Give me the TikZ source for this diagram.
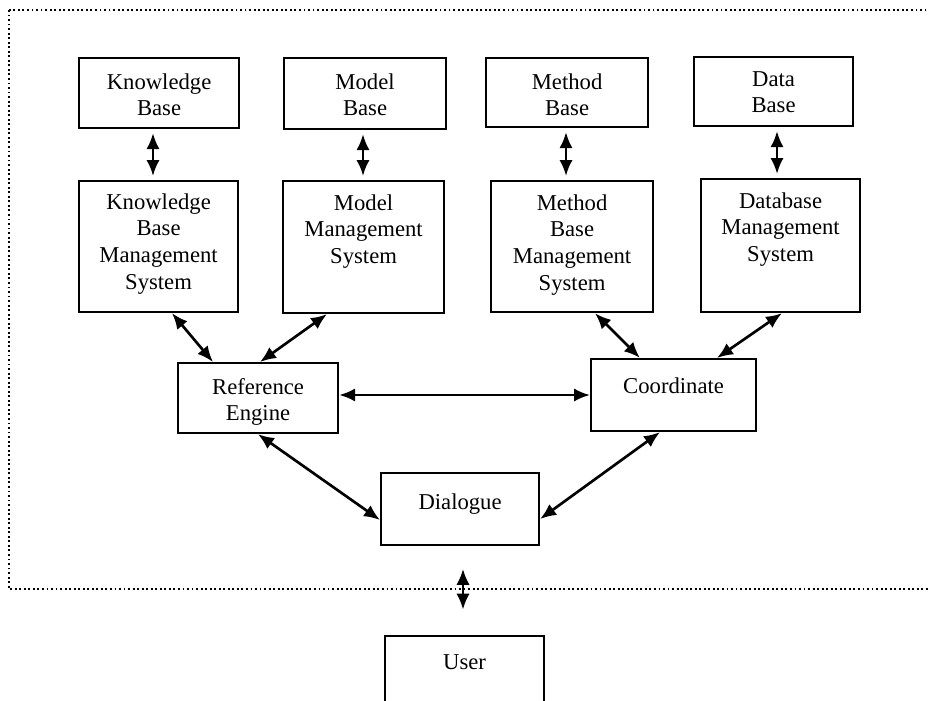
\documentclass[tikz,border=0pt]{standalone}
\usepackage{fontspec}
\setmainfont{Liberation Serif}
\usetikzlibrary{arrows.meta}

\tikzset{
  blk/.style={draw, line width=1.6pt, align=center, anchor=north west,
    inner sep=0pt, font=\fontsize{17}{20}\selectfont},
  link/.style={arrows={Latex[length=12pt,width=10pt]-Latex[length=12pt,width=10pt]}, line width=2pt},
}

\begin{document}
\begin{tikzpicture}[x=0.75pt,y=-0.75pt]
  \useasboundingbox (0,0) rectangle (928,700);

  % dotted frame of the system
  \draw[dotted, line width=1.4pt] (9,10) rectangle (945,589);

  % bases
  \node[blk, minimum width=120pt, text height=43.25pt, text depth=9.25pt] (kb) at (78,57) {Knowledge\\Base};
  \node[blk, minimum width=121.5pt, text height=43.25pt, text depth=10pt] (mb) at (283,57) {Model\\Base};
  \node[blk, minimum width=121.5pt, text height=43.25pt, text depth=8.5pt] (meb) at (485,57) {Method\\Base};
  \node[blk, minimum width=119.25pt, text height=41.75pt, text depth=10pt] (db) at (693,56) {Data\\Base};

  % management systems
  \node[blk, minimum width=119.25pt, text height=81pt, text depth=17.25pt] (kbms) at (78,180) {Knowledge\\Base\\Management\\System};
  \node[blk, minimum width=120.75pt, text height=61.75pt, text depth=37.25pt] (mms) at (282,180) {Model\\Management\\System};
  \node[blk, minimum width=121.5pt, text height=81.75pt, text depth=16.5pt] (mbms) at (490,180) {Method\\Base\\Management\\System};
  \node[blk, minimum width=119.25pt, text height=61.75pt, text depth=38pt] (dbms) at (700,178) {Database\\Management\\System};

  % engine, coordinator, dialogue, user
  \node[blk, minimum width=120pt, text height=43.25pt, text depth=9.25pt] (re) at (177,362) {Reference\\Engine};
  \node[blk, minimum width=123.75pt, text height=25.5pt, text depth=28.5pt] (co) at (590,358) {Coordinate};
  \node[blk, minimum width=118.5pt, text height=27pt, text depth=27pt] (dia) at (380,472) {Dialogue};
  \node[blk, minimum width=119.25pt, text height=24.75pt, text depth=30pt] (usr) at (384,635) {User};

  % links base <-> management system
  \draw[link, shorten <=3pt, shorten >=3pt] (kb.south -| 153,0) -- (kbms.north -| 153,0);
  \draw[link, shorten <=3pt, shorten >=3pt] (mb.south -| 363,0) -- (mms.north -| 363,0);
  \draw[link, shorten <=3pt, shorten >=3pt] (meb.south -| 566,0) -- (mbms.north -| 566,0);
  \draw[link, shorten <=3pt, shorten >=3pt] (db.south -| 777,0) -- (dbms.north -| 777,0);

  % links to engine and coordinator
  \draw[link] (kbms.south -| 172,0) -- (re.north -| 213,0);
  \draw[link] (mms.south -| 327,0) -- (re.north -| 260,0);
  \draw[link] (mbms.south -| 595,0) -- (co.north -| 640,0);
  \draw[link] (dbms.south -| 782,0) -- (co.north -| 717,0);
  \draw[link] (re.east |- 0,395) -- (co.west |- 0,395);

  % links to dialogue
  \draw[link] (re.south -| 258,0) -- (dia.west |- 0,520);
  \draw[link] (co.south -| 660,0) -- (dia.east |- 0,519);
  \draw[link, shorten <=17pt, shorten >=19pt] (dia.south -| 463,0) -- (usr.north -| 463,0);
\end{tikzpicture}
\end{document}
